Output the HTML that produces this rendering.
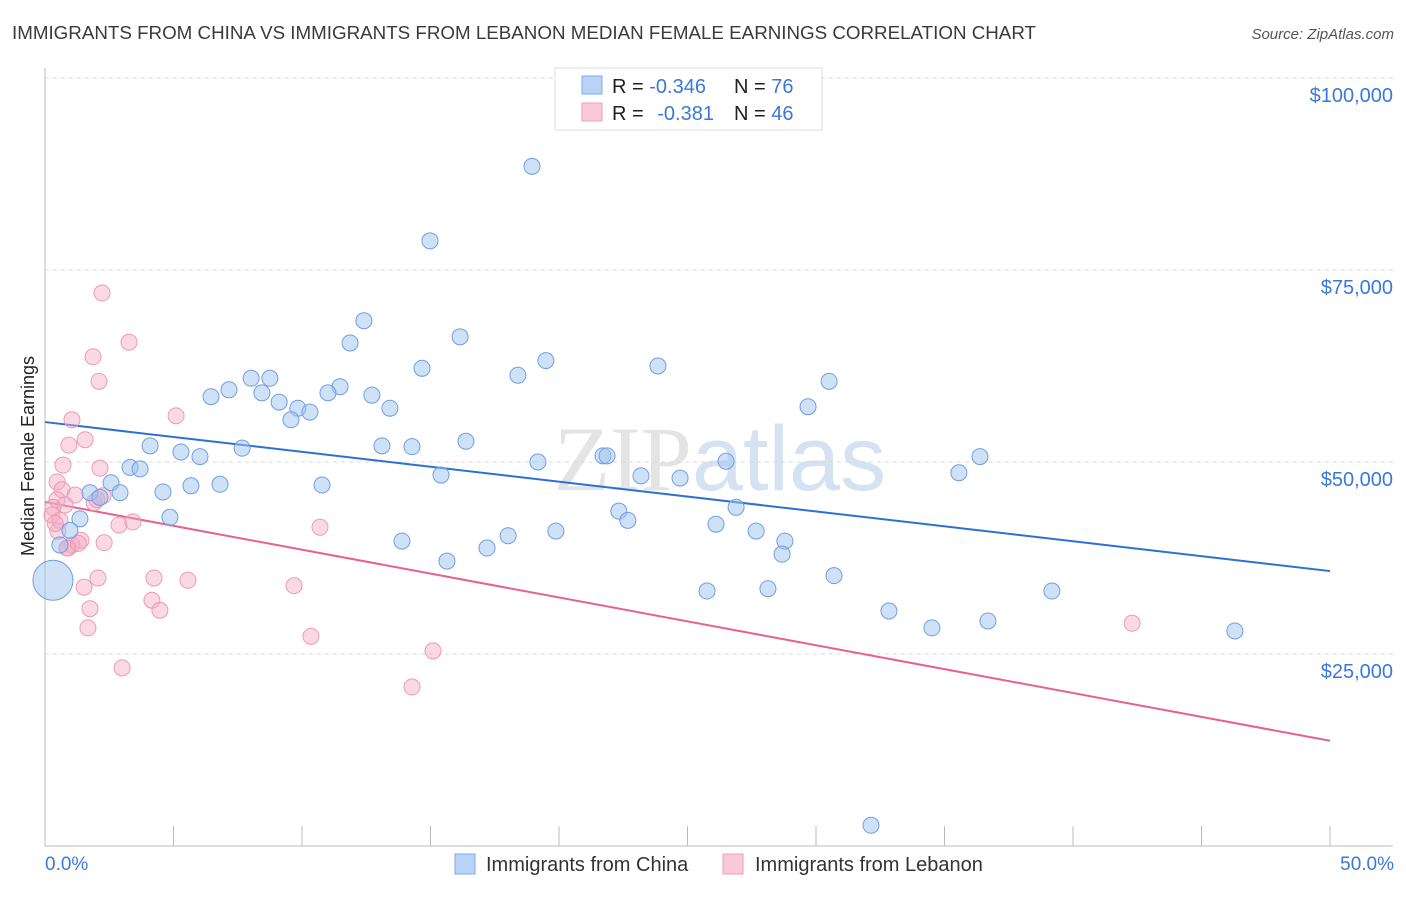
<!DOCTYPE html>
<html><head><meta charset="utf-8"><style>
body{margin:0;background:#fff;font-family:"Liberation Sans",sans-serif;}
</style></head><body>
<svg width="1406" height="892" viewBox="0 0 1406 892" xmlns="http://www.w3.org/2000/svg">
<text x="12" y="39" font-size="18" fill="#3a3a3a" textLength="1024" lengthAdjust="spacingAndGlyphs">IMMIGRANTS FROM CHINA VS IMMIGRANTS FROM LEBANON MEDIAN FEMALE EARNINGS CORRELATION CHART</text>
<text x="1394" y="39" font-size="15" fill="#555" text-anchor="end" font-style="italic">Source: ZipAtlas.com</text>
<text x="720" y="490" font-size="92" fill="#e4e4e4" text-anchor="middle" font-family="Liberation Serif">ZIP<tspan fill="#d4e2f2" font-family="Liberation Sans">atlas</tspan></text>
<g id="grid"></g>
<g id="axes"></g>
<g id="trends"></g>
<g id="points"></g>
<text transform="translate(34,456) rotate(-90)" font-size="18" fill="#222" text-anchor="middle">Median Female Earnings</text>
<text x="45" y="870" font-size="19" fill="#3b78d8">0.0%</text>
<text x="1394" y="870" font-size="19" fill="#3b78d8" text-anchor="end">50.0%</text>
<g>
<rect x="555" y="68" width="267" height="62" fill="#fff" stroke="#ddd"/>
<rect x="582" y="76" width="20" height="18" fill="#b8d3f5" stroke="#7eaae6"/>
<rect x="582" y="103" width="20" height="18" fill="#fac9d8" stroke="#ef9fba"/>
<text x="612" y="93" font-size="20" fill="#222">R = <tspan fill="#3b78d8">-0.346</tspan><tspan x="734">N = </tspan><tspan fill="#3b78d8">76</tspan></text>
<text x="612" y="120" font-size="20" fill="#222">R = <tspan fill="#3b78d8" dx="8">-0.381</tspan><tspan x="734">N = </tspan><tspan fill="#3b78d8">46</tspan></text>
</g>
<g>
<rect x="455" y="854" width="20" height="20" fill="#b8d3f5" stroke="#7eaae6"/>
<text x="486" y="871" font-size="20" fill="#333">Immigrants from China</text>
<rect x="723" y="854" width="20" height="20" fill="#fac9d8" stroke="#ef9fba"/>
<text x="755" y="871" font-size="20" fill="#333">Immigrants from Lebanon</text>
</g>
</svg>
<script>
const yTicks=[25000,50000,75000,100000];
const yTickLabels=["$25,000","$50,000","$75,000","$100,000"];
const chinaX=[18.95,14.98,12.41,16.15,11.87,19.49,23.85,14.67,18.40,30.51,8.02,8.75,7.16,6.46,11.48,11.01,12.72,8.44,9.11,9.84,10.31,13.42,9.57,29.69,4.09,13.11,14.28,16.38,7.67,5.29,6.03,3.31,3.70,19.18,21.71,21.87,26.50,36.38,35.56,15.41,23.19,24.71,2.57,5.68,6.81,10.78,1.75,2.92,4.59,2.14,26.89,22.33,22.68,26.11,4.86,1.36,27.67,19.88,18.02,13.89,28.79,0.97,0.58,28.68,17.20,15.64,30.70,25.76,28.13,39.18,32.84,36.69,34.51,46.30,32.14,0.31];
const chinaY=[88.5,78.8,68.4,66.3,65.5,63.2,62.5,62.2,61.3,60.5,60.9,60.9,59.4,58.5,59.8,59.0,58.7,59.0,57.8,57.0,56.5,57.0,55.5,57.2,52.1,52.1,52.0,52.7,51.8,51.3,50.7,49.3,49.1,50.0,50.8,50.8,50.1,50.7,48.6,48.3,48.2,47.9,47.3,46.9,47.1,47.0,46.0,46.0,46.1,45.4,44.1,43.6,42.4,41.9,42.8,42.6,41.0,41.0,40.4,39.7,39.7,41.1,39.2,38.0,38.8,37.1,35.2,33.2,33.5,33.2,30.6,29.3,28.4,28.0,2.7,34.6];
const chinaBig=[75];
const lebX=[2.22,3.27,1.87,2.10,5.10,1.05,1.56,0.93,0.70,2.14,0.47,0.66,1.17,2.26,0.47,1.91,0.31,2.02,0.78,0.27,0.58,2.88,3.42,10.70,1.40,1.05,2.30,0.89,1.52,2.06,4.24,5.56,9.69,4.16,1.75,4.47,1.67,10.35,15.10,3.00,14.28,42.30,0.50,0.40,0.85,1.30];
const lebY=[72.0,65.6,63.7,60.5,56.0,55.5,52.9,52.2,49.6,49.2,47.4,46.4,45.7,45.6,45.1,44.7,44.1,45.1,44.4,43.1,42.4,41.8,42.2,41.5,39.8,39.2,39.5,38.8,33.7,34.9,34.9,34.6,33.9,32.0,30.9,30.7,28.4,27.3,25.4,23.2,20.7,29.0,41.0,42.0,38.8,39.4];
const chinaTrend=[55.2,35.8];
const lebTrend=[44.8,13.7];
const NS="http://www.w3.org/2000/svg";
function xs(p){return 45+p/50*1285;}
function ys(v){return 846-v/100000*768;}
function mk(t,a,p){const e=document.createElementNS(NS,t);for(const k in a)e.setAttribute(k,a[k]);p.appendChild(e);return e;}
const grid=document.getElementById('grid'),axes=document.getElementById('axes'),tr=document.getElementById('trends'),pts=document.getElementById('points');
yTicks.forEach((v,i)=>{
 const l=mk('line',{x1:45,x2:1393,y1:ys(v),y2:ys(v),stroke:'#d8d8d8','stroke-dasharray':'4,4'},grid);
 
 
 const t=mk('text',{x:1393,y:ys(v)+24,'font-size':20,fill:'#3b78d8','text-anchor':'end'},grid);
 t.textContent=yTickLabels[i];
 
 
});
const ax=mk('line',{x1:45,x2:45,y1:68,y2:846,stroke:'#bbb'},axes);


const bx=mk('line',{x1:45,x2:1393,y1:846,y2:846,stroke:'#bbb'},axes);


for(let k=0;k<=10;k++){
 const t=mk('line',{x1:xs(k*5),x2:xs(k*5),y1:826,y2:846,stroke:'#bbb'},axes);
 
 
}
const lt=mk('line',{x1:xs(0),y1:ys(lebTrend[0]*1000),x2:xs(50),y2:ys(lebTrend[1]*1000),stroke:'#e8608f','stroke-width':2},tr);


const ct=mk('line',{x1:xs(0),y1:ys(chinaTrend[0]*1000),x2:xs(50),y2:ys(chinaTrend[1]*1000),stroke:'#2d6fd6','stroke-width':2},tr);


lebX.forEach((x,i)=>{
 const c=mk('circle',{cx:xs(x),cy:ys(lebY[i]*1000),r:8,fill:'rgba(245,170,195,0.45)',stroke:'#ec9ab6','stroke-width':1},pts);
 
 
});
chinaX.forEach((x,i)=>{
 const big=chinaBig.includes(i);
 const c=mk('circle',{cx:xs(x),cy:ys(chinaY[i]*1000),r:big?20:8,fill:'rgba(160,195,240,0.5)',stroke:'#6f9fe0','stroke-width':1},pts);
 
 
});
</script>
</body></html>
